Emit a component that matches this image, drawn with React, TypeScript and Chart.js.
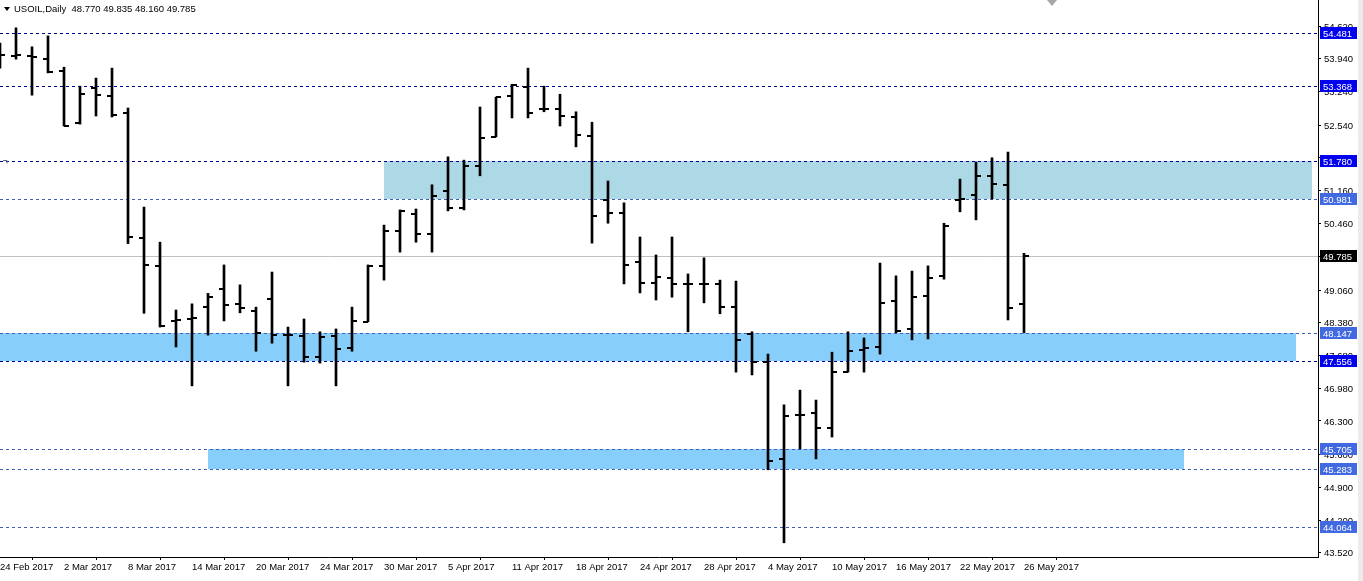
import React, { useEffect, useRef } from 'react';
import { Chart, registerables } from 'chart.js';
Chart.register(...registerables);

const symbolName = 'USOIL';
const timeframe = 'Daily';

const dateLabels = ['24 Feb 2017', '2 Mar 2017', '8 Mar 2017', '14 Mar 2017', '20 Mar 2017', '24 Mar 2017', '30 Mar 2017', '5 Apr 2017', '11 Apr 2017', '18 Apr 2017', '24 Apr 2017', '28 Apr 2017', '4 May 2017', '10 May 2017', '16 May 2017', '22 May 2017', '26 May 2017'];
const barsPerLabel = 4;

const opens = [54.02, 54.0, 53.99, 53.93, 53.68, 52.58, 53.32, 53.15, 52.79, 50.16, 49.57, 48.41, 48.45, 48.70, 49.08, 48.77, 48.62, 48.87, 48.12, 48.09, 47.65, 48.09, 47.84, 48.39, 49.57, 50.31, 50.66, 50.24, 51.15, 50.79, 51.68, 52.29, 53.15, 53.34, 52.88, 52.88, 52.71, 52.31, 50.96, 50.69, 49.65, 49.21, 49.32, 49.19, 49.19, 49.19, 48.70, 48.14, 47.54, 45.50, 46.43, 46.47, 46.15, 47.33, 47.80, 47.86, 48.83, 48.24, 48.93, 49.36, 50.96, 51.07, 51.47, 51.28, 48.77];
const highs = [54.27, 54.59, 54.19, 54.42, 53.76, 53.36, 53.53, 53.74, 52.90, 50.81, 50.07, 48.64, 48.77, 48.99, 49.59, 49.17, 48.70, 49.44, 48.28, 48.45, 48.18, 48.24, 48.70, 49.59, 50.43, 50.75, 50.77, 51.28, 51.87, 51.80, 52.92, 53.13, 53.40, 53.74, 53.36, 53.19, 52.82, 52.60, 51.36, 50.90, 50.18, 49.80, 50.18, 49.40, 49.74, 49.27, 49.25, 48.18, 47.71, 46.64, 46.95, 46.74, 47.75, 48.18, 48.05, 49.63, 49.36, 49.46, 49.57, 50.47, 51.40, 51.76, 51.85, 51.97, 49.835];
const lows = [53.74, 53.93, 53.17, 53.64, 52.52, 52.56, 52.73, 52.71, 50.04, 48.57, 48.28, 47.86, 47.04, 48.11, 48.41, 48.58, 47.77, 47.94, 47.04, 47.54, 47.52, 47.04, 47.77, 48.39, 49.27, 49.86, 50.07, 49.86, 50.73, 50.75, 51.47, 52.29, 52.69, 52.69, 52.82, 52.52, 52.08, 50.05, 50.47, 49.19, 49.00, 48.85, 48.91, 48.18, 48.79, 48.56, 47.33, 47.27, 45.27, 43.73, 45.71, 45.50, 45.96, 47.33, 47.33, 47.71, 48.16, 48.01, 48.03, 49.29, 50.71, 50.54, 50.98, 48.43, 48.16];
const closes = [54.02, 54.02, 53.97, 53.66, 52.52, 53.19, 53.17, 52.75, 50.18, 49.59, 48.30, 48.43, 48.47, 48.91, 48.75, 48.68, 48.16, 48.12, 48.12, 47.65, 48.07, 47.82, 48.41, 49.57, 50.31, 50.73, 50.24, 51.04, 50.79, 51.68, 52.27, 53.13, 53.38, 52.79, 52.88, 52.73, 52.33, 50.62, 50.69, 49.59, 49.21, 49.34, 49.19, 49.19, 49.19, 48.70, 48.01, 47.54, 45.46, 46.40, 46.43, 46.15, 47.33, 47.78, 47.84, 48.79, 48.20, 48.91, 49.31, 50.41, 50.98, 51.47, 51.30, 48.68, 49.785];

const priceTicks = [54.62, 53.94, 53.24, 52.54, 51.86, 51.16, 50.46, 49.76, 49.06, 48.38, 47.68, 46.98, 46.30, 45.60, 44.90, 44.20, 43.52];
const priceMin = 43.431;
const priceMax = 55.177;
const slotsVisible = 82.375;

const levelValues = [54.481, 53.368, 51.780, 50.981, 48.147, 47.556, 45.705, 45.283, 44.064];
const levelStrong = [true, true, true, false, false, true, false, false, false];

const zoneStart = [24, -1, 13];
const zoneEnd = [82, 81, 74];
const zoneHigh = [51.780, 48.147, 45.705];
const zoneLow = [50.981, 47.556, 45.283];
const zoneColors = ['#ADD8E6', '#87CEFA', '#87CEFA'];

const FAMILY = '"Liberation Sans", Arial, sans-serif';
const FONT = `9.5px ${FAMILY}`;

function makeTick(side: 'left' | 'right') {
  const c = document.createElement('canvas');
  c.width = 10;
  c.height = 2;
  const g = c.getContext('2d')!;
  g.fillStyle = '#000';
  if (side === 'left') g.fillRect(0, 0, 5, 2);
  else g.fillRect(5, 0, 5, 2);
  return c;
}

const overlayPlugin = {
  id: 'mtOverlay',
  beforeDraw(chart: any) {
    chart.ctx.imageSmoothingEnabled = false;
  },
  beforeDatasetsDraw(chart: any) {
    const { ctx, chartArea, scales } = chart;
    const xs = scales.x;
    const ys = scales.y;
    ctx.save();
    ctx.beginPath();
    ctx.rect(chartArea.left, chartArea.top, chartArea.right - chartArea.left, chartArea.bottom - chartArea.top);
    ctx.clip();
    for (let k = 0; k < zoneStart.length; k++) {
      const x1 = Math.round(xs.getPixelForValue(zoneStart[k]));
      const x2 = Math.round(xs.getPixelForValue(zoneEnd[k]));
      const y1 = Math.round(ys.getPixelForValue(zoneHigh[k]));
      const y2 = Math.round(ys.getPixelForValue(zoneLow[k]));
      ctx.fillStyle = zoneColors[k];
      ctx.fillRect(x1, y1, x2 - x1, y2 - y1);
    }
    const last = closes[closes.length - 1];
    const cy = Math.round(ys.getPixelForValue(last)) + 0.5;
    ctx.strokeStyle = '#C0C0C0';
    ctx.lineWidth = 1;
    ctx.setLineDash([]);
    ctx.beginPath();
    ctx.moveTo(chartArea.left, cy);
    ctx.lineTo(chartArea.right, cy);
    ctx.stroke();
    ctx.setLineDash([3, 3]);
    levelValues.forEach((v, k) => {
      const y = Math.round(ys.getPixelForValue(v)) + 0.5;
      ctx.strokeStyle = levelStrong[k] ? '#000090' : '#3F5FB8';
      ctx.beginPath();
      ctx.moveTo(chartArea.left, y);
      ctx.lineTo(chartArea.right, y);
      ctx.stroke();
    });
    // small marker at left of 51.780 level
    ctx.setLineDash([]);
    ctx.strokeStyle = '#5070A8';
    const my = Math.round(ys.getPixelForValue(levelValues[2])) + 0.5;
    ctx.beginPath();
    ctx.moveTo(chartArea.left + 3, my - 1);
    ctx.lineTo(chartArea.left + 7, my - 1);
    ctx.lineTo(chartArea.left + 7, my + 2);
    ctx.stroke();
    ctx.restore();
  },
  afterDraw(chart: any) {
    const { ctx, chartArea, scales } = chart;
    const ys = scales.y;
    ctx.save();
    ctx.font = FONT;
    ctx.textBaseline = 'middle';
    ctx.textAlign = 'left';
    const bx = chartArea.right + 2;
    const bw = chart.width - bx - 6;
    levelValues.forEach((v, k) => {
      const y = Math.round(ys.getPixelForValue(v));
      ctx.fillStyle = levelStrong[k] ? '#0000EE' : '#4169E1';
      ctx.fillRect(bx, y - 6, bw, 12);
      ctx.fillStyle = '#FFFFFF';
      ctx.fillText(v.toFixed(3), bx + 3, y + 1);
    });
    const last = closes[closes.length - 1];
    const cy = Math.round(ys.getPixelForValue(last));
    ctx.fillStyle = '#000';
    ctx.fillRect(bx, cy - 6, bw, 12);
    ctx.fillStyle = '#FFF';
    ctx.fillText(last.toFixed(3), bx + 3, cy + 1);

    ctx.fillStyle = '#ECECEC';
    ctx.fillRect(chart.width - 5, 0, 5, chart.height);

    const n = opens.length - 1;
    ctx.fillStyle = '#000';
    ctx.beginPath();
    ctx.moveTo(4, 7);
    ctx.lineTo(10, 7);
    ctx.lineTo(7, 11);
    ctx.closePath();
    ctx.fill();
    ctx.fillText(`${symbolName},${timeframe}  ${opens[n].toFixed(3)} ${highs[n].toFixed(3)} ${lows[n].toFixed(3)} ${closes[n].toFixed(3)}`, 14, 9.5);

    ctx.fillStyle = '#A8A8A8';
    ctx.beginPath();
    ctx.moveTo(1047, 0);
    ctx.lineTo(1057, 0);
    ctx.lineTo(1052, 6);
    ctx.closePath();
    ctx.fill();
    ctx.restore();
  },
};

export default function App() {
  const ref = useRef<HTMLCanvasElement | null>(null);
  useEffect(() => {
    if (!ref.current) return;
    const openImg = makeTick('left');
    const closeImg = makeTick('right');
    const idx = opens.map((_, i) => i);
    const chart = new Chart(ref.current, {
      type: 'bar',
      data: {
        datasets: [
          {
            type: 'bar',
            data: idx.map((i) => ({ x: i, y: [lows[i], highs[i]] })) as any,
            backgroundColor: '#000',
            borderWidth: 0,
            barThickness: 2,
            grouped: false,
          } as any,
          {
            type: 'scatter',
            data: idx.map((i) => ({ x: i, y: opens[i] })),
            pointStyle: openImg as any,
            pointRadius: 3,
            pointHoverRadius: 3,
            pointBorderWidth: 0,
          } as any,
          {
            type: 'scatter',
            data: idx.map((i) => ({ x: i, y: closes[i] })),
            pointStyle: closeImg as any,
            pointRadius: 3,
            pointHoverRadius: 3,
            pointBorderWidth: 0,
          } as any,
        ],
      },
      options: {
        animation: false,
        responsive: false,
        devicePixelRatio: 1,
        events: [],
        layout: { padding: 0, autoPadding: false },
        plugins: { legend: { display: false }, tooltip: { enabled: false }, title: { display: false } },
        scales: {
          x: {
            type: 'linear',
            min: 0,
            max: slotsVisible,
            offset: false,
            position: 'bottom',
            afterBuildTicks: (s: any) => {
              s.ticks = dateLabels.map((_, k) => ({ value: k * barsPerLabel }));
            },
            afterFit: (s: any) => {
              s.height = 24;
              s.paddingLeft = 0;
              s.paddingRight = 0;
            },
            ticks: {
              autoSkip: false,
              maxRotation: 0,
              minRotation: 0,
              align: 'start',
              padding: 2,
              color: '#000',
              font: { family: FAMILY, size: 9.5 },
              callback: (_v: any, i: number) => dateLabels[i],
            },
            grid: { drawOnChartArea: false, drawTicks: true, tickLength: 3, color: '#000' },
            border: { display: true, color: '#000' },
          } as any,
          y: {
            type: 'linear',
            position: 'right',
            min: priceMin,
            max: priceMax,
            afterBuildTicks: (s: any) => {
              s.ticks = priceTicks.map((v) => ({ value: v }));
            },
            afterFit: (s: any) => {
              s.width = 45;
              s.paddingTop = 0;
              s.paddingBottom = 0;
            },
            ticks: {
              padding: 3,
              labelOffset: 1,
              color: '#000',
              font: { family: FAMILY, size: 9.5 },
              callback: (v: any) => Number(v).toFixed(3),
            },
            grid: { drawOnChartArea: false, drawTicks: true, tickLength: 3, color: '#000' },
            border: { display: true, color: '#000' },
          } as any,
        },
      },
      plugins: [overlayPlugin],
    });
    return () => chart.destroy();
  }, []);
  return (
    <div style={{ position: 'absolute', left: 0, top: 0, width: 1363, height: 581, background: '#fff' }}>
      <canvas ref={ref} width={1363} height={581} style={{ display: 'block', width: 1363, height: 581 }} />
    </div>
  );
}
